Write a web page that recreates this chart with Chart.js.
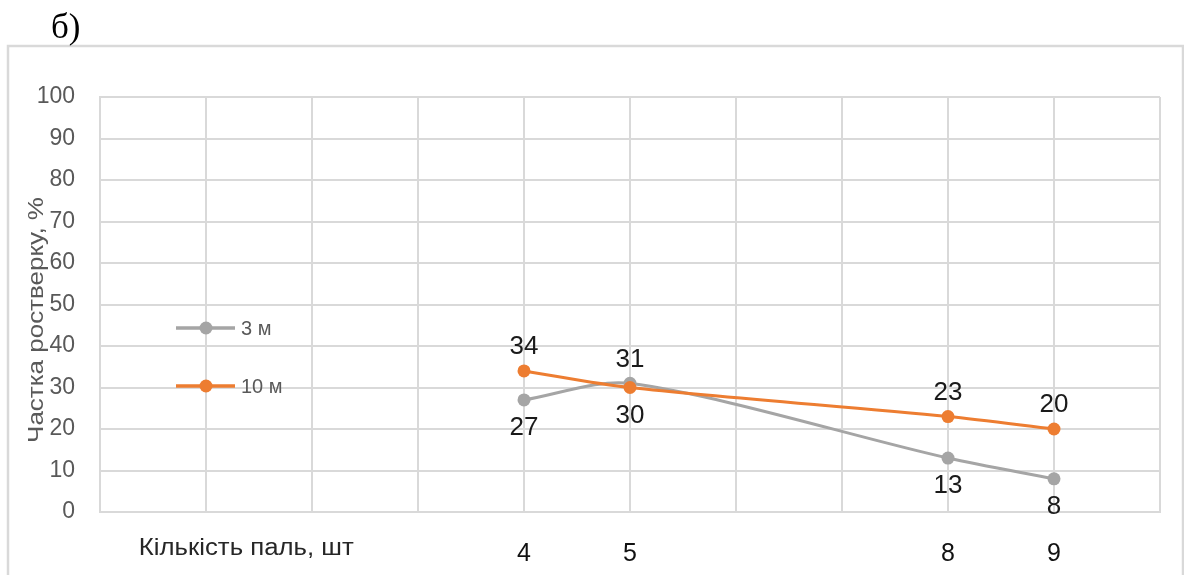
<!DOCTYPE html>
<html>
<head>
<meta charset="utf-8">
<script src="https://cdn.jsdelivr.net/npm/chart.js@4.4.1/dist/chart.umd.min.js"></script>
<style>
  html, body { margin: 0; padding: 0; background: #fff; }
  #wrap { position: relative; width: 1184px; height: 575px; }
</style>
</head>
<body>
<div id="wrap"><canvas id="c" width="1184" height="575"></canvas></div>
<script>
// ---- data ----
const categories = [4, 5, 8, 9];
const series3m = [27, 31, 13, 8];
const series10m = [34, 30, 23, 20];
const seriesNames = ['3 м', '10 м'];
const labelPlace3m = ['below', 'above', 'below', 'below'];
const labelPlace10m = ['above', 'below', 'above', 'above'];
const xAxisTitle = 'Кількість паль, шт';
const yAxisTitle = 'Частка ростверку, %';
const panelLabel = 'б)';

const GRAY = '#A5A5A5';
const ORANGE = '#ED7D31';
const GRID = '#D9D9D9';
const FONT = "'Liberation Sans', Arial, sans-serif";

const toXY = (vals) => categories.map((c, i) => ({ x: c, y: vals[i] }));

function stretchedText(ctx, text, x, y, sx) {
  ctx.save();
  ctx.translate(x, y);
  ctx.scale(sx, 1);
  ctx.fillText(text, 0, 0);
  ctx.restore();
}

const decorPlugin = {
  id: 'decor',
  beforeDraw(chart) {
    const ctx = chart.ctx;
    ctx.save();
    ctx.fillStyle = '#fff';
    ctx.fillRect(0, 0, chart.width, chart.height);
    ctx.strokeStyle = GRID;
    ctx.lineWidth = 2.5;
    ctx.strokeRect(8, 46, 1175, 600);
    ctx.fillStyle = '#000';
    ctx.font = "35px 'Liberation Serif', 'Times New Roman', serif";
    ctx.textBaseline = 'alphabetic';
    ctx.textAlign = 'left';
    ctx.fillText(panelLabel, 51, 38);
    ctx.restore();
  },
  afterDraw(chart) {
    const ctx = chart.ctx;
    const xs = chart.scales.x;
    ctx.save();
    // x-axis caption at tick-label level
    ctx.fillStyle = '#262626';
    ctx.font = '23px ' + FONT;
    ctx.textAlign = 'center';
    ctx.textBaseline = 'middle';
    stretchedText(ctx, xAxisTitle, xs.getPixelForValue(1.38), 549, 1.12);

    // y-axis title (rotated)
    ctx.save();
    ctx.fillStyle = '#595959';
    ctx.font = '22px ' + FONT;
    ctx.translate(37, 320);
    ctx.rotate(-Math.PI / 2);
    ctx.scale(1.18, 1);
    ctx.textAlign = 'center';
    ctx.textBaseline = 'middle';
    ctx.fillText(yAxisTitle, 0, 0);
    ctx.restore();

    // legend inside plot
    const lx = xs.getPixelForValue(1);
    const items = [
      { name: seriesNames[0], color: GRAY, y: 328 },
      { name: seriesNames[1], color: ORANGE, y: 386 }
    ];
    items.forEach(it => {
      ctx.strokeStyle = it.color;
      ctx.lineWidth = 3.5;
      ctx.beginPath();
      ctx.moveTo(lx - 30, it.y);
      ctx.lineTo(lx + 29, it.y);
      ctx.stroke();
      ctx.fillStyle = it.color;
      ctx.beginPath();
      ctx.arc(lx, it.y, 6.5, 0, Math.PI * 2);
      ctx.fill();
      ctx.fillStyle = '#595959';
      ctx.font = '20px ' + FONT;
      ctx.textAlign = 'left';
      ctx.textBaseline = 'middle';
      ctx.fillText(it.name, lx + 35, it.y + 1);
    });

    // data labels
    ctx.fillStyle = '#1a1a1a';
    ctx.font = '26px ' + FONT;
    ctx.textAlign = 'center';
    ctx.textBaseline = 'middle';
    chart.data.datasets.forEach((ds, di) => {
      const meta = chart.getDatasetMeta(di);
      meta.data.forEach((pt, i) => {
        const place = ds.labelPlace[i];
        const dy = place === 'above' ? -24 : 28;
        ctx.fillText(String(ds.data[i].y), pt.x, pt.y + dy);
      });
    });
    ctx.restore();
  }
};

new Chart(document.getElementById('c'), {
  type: 'line',
  data: {
    datasets: [
      {
        label: seriesNames[0],
        data: toXY(series3m),
        labelPlace: labelPlace3m,
        borderColor: GRAY,
        backgroundColor: GRAY,
        borderWidth: 3,
        pointRadius: 6.5,
        pointHoverRadius: 6.5,
        pointBorderWidth: 0,
        tension: 0.3,
        order: 2
      },
      {
        label: seriesNames[1],
        data: toXY(series10m),
        labelPlace: labelPlace10m,
        borderColor: ORANGE,
        backgroundColor: ORANGE,
        borderWidth: 3,
        pointRadius: 6.5,
        pointHoverRadius: 6.5,
        pointBorderWidth: 0,
        tension: 0.3,
        order: 1
      }
    ]
  },
  options: {
    responsive: false,
    animation: false,
    layout: { padding: { left: 0, right: 24, top: 97, bottom: 0 } },
    plugins: {
      legend: { display: false },
      tooltip: { enabled: false }
    },
    scales: {
      x: {
        type: 'linear',
        min: 0,
        max: 10,
        afterFit: (s) => { s.height = 63; s.paddingLeft = 0; s.paddingRight = 0; },
        afterBuildTicks: (s) => {
          const t = [];
          for (let v = 0; v <= 10; v++) t.push({ value: v });
          s.ticks = t;
        },
        ticks: {
          autoSkip: false,
          maxRotation: 0,
          padding: 27,
          color: '#111',
          font: { family: FONT, size: 25 },
          callback: (v) => categories.includes(v) ? String(v) : ''
        },
        grid: { color: GRID, lineWidth: 2, drawTicks: false },
        border: { color: GRID, width: 2 }
      },
      y: {
        min: 0,
        max: 100,
        afterFit: (s) => { s.width = 100; },
        ticks: {
          stepSize: 10,
          padding: 25,
          color: '#595959',
          font: { family: FONT, size: 23 }
        },
        grid: { color: GRID, lineWidth: 2, drawTicks: false },
        border: { color: GRID, width: 2 }
      }
    }
  },
  plugins: [decorPlugin]
});
</script>
</body>
</html>
